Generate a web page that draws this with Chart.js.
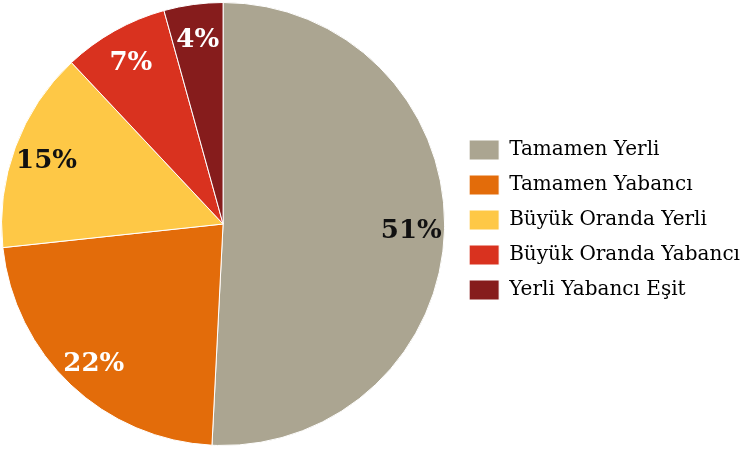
<!DOCTYPE html>
<html>
<head>
<meta charset="utf-8">
<script src="https://cdn.jsdelivr.net/npm/chart.js@4"></script>
<style>
  html, body { margin: 0; padding: 0; background: #fff; }
  #wrap { width: 756px; height: 450px; }
</style>
</head>
<body>
<div id="wrap"><canvas id="myChart"></canvas></div>
<script>
const labels = ['Tamamen Yerli', 'Tamamen Yabancı', 'Büyük Oranda Yerli', 'Büyük Oranda Yabancı', 'Yerli Yabancı Eşit'];
const values = [50.8, 22.5, 14.7, 7.7, 4.3];
const pctLabels = ['51%', '22%', '15%', '7%', '4%'];
const colors = ['#aba591', '#e36c0a', '#fec846', '#d9321f', '#861c1c'];
const labelColors = ['#111', '#fff', '#111', '#fff', '#fff'];

// percent labels inside slices
const sliceLabels = {
  id: 'sliceLabels',
  afterLayout(chart) {
    // nudge legend: a bit right and a little above the pie's centre
    chart.legend.left += 8;
    chart.legend.right += 8;
    chart.legend.top -= 4;
    chart.legend.bottom -= 4;
  },
  afterDatasetsDraw(chart) {
    const ctx = chart.ctx;
    const meta = chart.getDatasetMeta(0);
    ctx.save();
    ctx.font = 'bold 26px "DejaVu Serif"';
    ctx.textAlign = 'center';
    ctx.textBaseline = 'middle';
    meta.data.forEach((arc, i) => {
      const mid = (arc.startAngle + arc.endAngle) / 2;
      const r = arc.outerRadius * 0.85;
      ctx.fillStyle = labelColors[i];
      ctx.fillText(pctLabels[i], arc.x + Math.cos(mid) * r, arc.y + Math.sin(mid) * r + 3);
    });
    ctx.restore();
  }
};

const ctx = document.getElementById('myChart');
const myChart = new Chart(ctx, {
  type: 'pie',
  data: {
    labels: labels,
    datasets: [{
      data: values,
      backgroundColor: colors,
      borderColor: '#fff',
      borderWidth: 1
    }]
  },
  options: {
    responsive: true,
    maintainAspectRatio: false,
    animation: false,
    layout: { padding: { top: 2, bottom: 4, left: 0, right: 14 } },
    plugins: {
      tooltip: { enabled: false },
      legend: {
        position: 'right',
        labels: {
          boxWidth: 30,
          boxHeight: 20,
          padding: 15,
          color: '#000',
          font: { family: 'DejaVu Serif', size: 20 }
        }
      }
    }
  },
  plugins: [sliceLabels]
});
</script>
</body>
</html>
